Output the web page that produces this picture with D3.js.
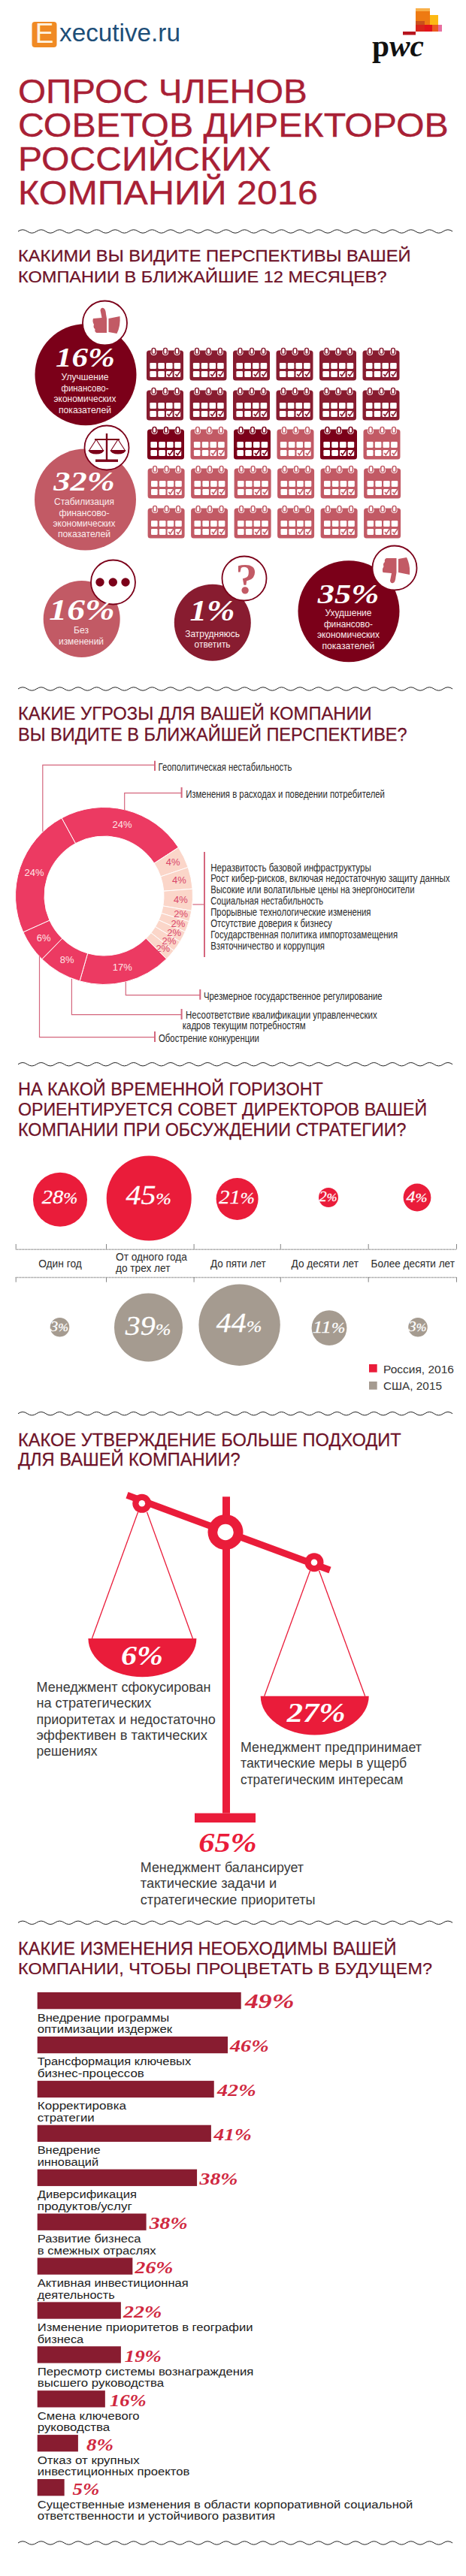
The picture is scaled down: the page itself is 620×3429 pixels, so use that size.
<!DOCTYPE html>
<html lang="ru"><head><meta charset="utf-8">
<script src="https://cdnjs.cloudflare.com/ajax/libs/d3/7.8.5/d3.min.js"></script>
<style>html,body{margin:0;padding:0;background:#fff}svg{display:block}text{font-family:"Liberation Sans",sans-serif}</style>
</head><body><svg id="c" width="620" height="3429" viewBox="0 0 620 3429"></svg>
<script>
// ---------- DATA ----------
const titleLines=["ОПРОС ЧЛЕНОВ","СОВЕТОВ ДИРЕКТОРОВ","РОССИЙСКИХ","КОМПАНИЙ 2016"];
const q1Lines=["КАКИМИ ВЫ ВИДИТЕ ПЕРСПЕКТИВЫ ВАШЕЙ","КОМПАНИИ В БЛИЖАЙШИЕ 12 МЕСЯЦЕВ?"];
const outlookValues=["16%","32%","16%","1%","35%"];
const outlookLabels=[["Улучшение","финансово-","экономических","показателей"],["Стабилизация","финансово-","экономических","показателей"],["Без","изменений"],["Затрудняюсь","ответить"],["Ухудшение","финансово-","экономических","показателей"]];
const calendarGrid=[[1,1,1,1,1,1],[1,1,1,1,1,1],[0,2,0,2,0,2],[2,2,2,2,2,2],[2,2,2,2,2,2]];
const q2Lines=["КАКИЕ УГРОЗЫ ДЛЯ ВАШЕЙ КОМПАНИИ","ВЫ ВИДИТЕ В БЛИЖАЙШЕЙ ПЕРСПЕКТИВЕ?"];
const threatValues=[24,4,4,4,2,2,2,2,2,17,8,6,24];
const threatKinds=[0,1,1,1,1,1,1,1,1,0,0,0,0];
const threatList=["Неразвитость  базовой инфраструктуры","Рост кибер-рисков, включая недостаточную защиту данных","Высокие или волатильные цены на энергоносители","Социальная нестабильность","Прорывные технологические изменения","Отсутствие доверия к бизнесу","Государственная политика импортозамещения","Взяточничество и коррупция"];
const q3Lines=["НА КАКОЙ ВРЕМЕННОЙ ГОРИЗОНТ","ОРИЕНТИРУЕТСЯ СОВЕТ ДИРЕКТОРОВ ВАШЕЙ","КОМПАНИИ ПРИ ОБСУЖДЕНИИ СТРАТЕГИИ?"];
const horizonCats=["Один год","От одного года|до трех лет","До пяти лет","До десяти лет","Более десяти лет"];
const russia2016=[28,45,21,2,4];
const usa2015=[3,39,44,11,3];
const legendNames=["Россия, 2016","США, 2015"];
const q4Lines=["КАКОЕ УТВЕРЖДЕНИЕ БОЛЬШЕ ПОДХОДИТ","ДЛЯ ВАШЕЙ КОМПАНИИ?"];
const q5Lines=["КАКИЕ ИЗМЕНЕНИЯ НЕОБХОДИМЫ ВАШЕЙ","КОМПАНИИ, ЧТОБЫ ПРОЦВЕТАТЬ В БУДУЩЕМ?"];
const changeCats=[["Внедрение программы","оптимизации издержек"],["Трансформация ключевых","бизнес-процессов"],["Корректировка","стратегии"],["Внедрение","инноваций"],["Диверсификация","продуктов/услуг"],["Развитие бизнеса","в смежных отраслях"],["Активная инвестиционная","деятельность"],["Изменение приоритетов в географии","бизнеса"],["Пересмотр системы вознаграждения","высшего руководства"],["Смена ключевого","руководства"],["Отказ от крупных","инвестиционных проектов"],["Существенные изменения в области корпоративной социальной","ответственности и устойчивого развития"]];
const changeLabels=[49,46,42,41,38,38,26,22,19,16,8,5];
// bar lengths as drawn in the picture (they differ from the printed labels in places)
const changeBarLengths=[49,45.8,42.5,41.8,38.4,26.2,22.9,20.1,20.1,16.3,9.8,6.5];

// ---------- HELPERS ----------
const svg=d3.select("#c");
const RED="#ea1c3a",DARK="#7b0019",WINE="#881c30",ROSE="#c25a65",HEAD="#6e1228";
function t(g,x,y,s,size,fill,o={}){
  const e=g.append("text").attr("font-size",size).attr("fill",fill).text(s);
  if(o.anchor)e.attr("text-anchor",o.anchor);
  if(o.weight)e.attr("font-weight",o.weight);
  if(o.style)e.attr("font-style",o.style);
  if(o.family)e.style("font-family",o.family);
  if(o.stroke)e.attr("stroke",fill).attr("stroke-width",o.stroke);
  const k=o.w?o.w/e.node().getComputedTextLength():1;
  e.attr("transform",`translate(${x},${y}) scale(${k},1)`);
  return e;
}
const SERIF='"Liberation Serif",serif';
const pct=(g,x,y,s,size,fill,w)=>t(g,x,y,s,size,fill,{anchor:"middle",weight:700,style:"italic",family:SERIF,w});
function wave(y){
  const x0=24,x1=606,per=24.6,amp=2.2;let d=`M${x0},${y}`,x=x0,up=true;
  while(x+per/2<=x1+0.1){d+=`q${per/4},${up?-amp*2:amp*2} ${per/2},0`;x+=per/2;up=!up;}
  svg.append("path").attr("d",d).attr("fill","none").attr("stroke","#222").attr("stroke-width",1);
}
function heading(lines,ys,ws,size){lines.forEach((s,i)=>t(svg,24,ys[i],s,size,HEAD,{w:ws[i],stroke:0.25}));}

// ---------- HEADER ----------
svg.append("rect").attr("x",42.5).attr("y",29).attr("width",33).attr("height",34).attr("rx",4).attr("fill","#f08a24");
t(svg,59,57,"E",37,"#fff3e0",{anchor:"middle"});
t(svg,79,55,"xecutive.ru",33,"#1d4e78",{w:161});
const pwcBlocks=[[553,11,19,22,"#f8b04a"],[553,15,19,18,"#ee7a12"],[572,20,11,13,"#fdb913"],[553,28,12,5,"#c9501c"],[553,33,12,9,"#d9241a"],[565,33,10,9,"#e3131b"],[575,33,8,9,"#ec5a1f"],[583,33,5,9,"#e86fa0"],[536,42,17,4.5,"#b7141e"]];
svg.selectAll(".pb").data(pwcBlocks).join("rect").attr("x",d=>d[0]).attr("y",d=>d[1]).attr("width",d=>d[2]).attr("height",d=>d[3]).attr("fill",d=>d[4]);
(function(){const e=svg.append("text").attr("x",495).attr("y",75).attr("font-size",40).attr("fill","#111").attr("textLength",69).attr("lengthAdjust","spacingAndGlyphs").style("font-family",SERIF).style("font-weight",700);
 e.append("tspan").text("p");e.append("tspan").attr("font-style","italic").text("wc");})();
[[137,385],[182,573],[227,337],[272,399]].forEach((p,i)=>t(svg,24,p[0],titleLines[i],44,"#a82035",{w:p[1],stroke:0.3}));
wave(308);

// ---------- Q1 ----------
heading(q1Lines,[348,376],[523,491],22);
const calColor=d3.scaleOrdinal().domain([0,1,2]).range([DARK,WINE,ROSE]);
const calX=d3.scaleLinear().domain([0,5]).range([195,482.5]);
const calY=[463,516,568,620,673];
const calDX=[0,0,1,1.6,1.6];
calendarGrid.forEach((row,r)=>row.forEach((v,c)=>{
  const x=calX(c)+calDX[r],y=calY[r],col=calColor(v);
  const g=svg.append("g").attr("transform",`translate(${x},${y})`);
  g.append("rect").attr("y",3.5).attr("width",49).attr("height",40).attr("rx",3.5).attr("fill",col);
  [9.5,25,40.5].forEach(cx=>{
    g.append("rect").attr("x",cx-4).attr("y",2.5).attr("width",8).attr("height",7.5).attr("rx",4).attr("fill","#fff");
    g.append("rect").attr("x",cx-3.1).attr("y",-0.3).attr("width",6.2).attr("height",9.3).attr("rx",3.1).attr("fill",col);
    g.append("rect").attr("x",cx-1.5).attr("y",1).attr("width",3).attr("height",6.8).attr("rx",1.5).attr("fill","#fff");
  });
  [20,31].forEach((sy,ri)=>[4.4,15.3,26,36.6].forEach((sx,ci)=>{
    g.append("rect").attr("x",sx).attr("y",sy).attr("width",8.6).attr("height",8).attr("rx",1.2).attr("fill","#fff");
    if(ri==1&&ci>=2)g.append("path").attr("d",`M${sx+1.8},${sy+4}l2,2.6l4.4,-6.4`).attr("fill","none").attr("stroke",col).attr("stroke-width",1.6);
  }));
}));
const outlookCircles=[
 {cx:114,cy:498.7,r:67.5,fill:DARK,ic:[139.5,430],pw:79,ps:36,py:488,px:113.5,lx:113,ly:[506,520.5,535,549.5],lw:[63,63,83,70]},
 {cx:113.5,cy:665,r:67.5,fill:ROSE,ic:[142,596],pw:81.5,ps:36,py:653,px:112,lx:112,ly:[672,686.5,701,715],lw:[80,67,83,70]},
 {cx:108.7,cy:824,r:51,fill:ROSE,ic:[150.5,775],pw:87.4,ps:40,py:825,px:109,lx:108,ly:[843,858],lw:[20,60]},
 {cx:282.8,cy:828.7,r:51,fill:WINE,ic:[325,770],pw:60,ps:40,py:826,px:282.5,lx:282.6,ly:[848,862],lw:[73,48]},
 {cx:464,cy:813.7,r:67.5,fill:DARK,ic:[525,756],pw:81.5,ps:36,py:803,px:463.5,lx:463.4,ly:[820,834.5,849,863.5],lw:[62,65,83,70]}];
outlookCircles.forEach((d,i)=>{
  svg.append("circle").attr("cx",d.cx).attr("cy",d.cy).attr("r",d.r).attr("fill",d.fill);
  svg.append("circle").attr("cx",d.ic[0]).attr("cy",d.ic[1]).attr("r",29.5).attr("fill","#fff").attr("stroke",DARK).attr("stroke-width",1.8);
  pct(svg,d.px,d.py,outlookValues[i],d.ps,"#fff",d.pw);
  outlookLabels[i].forEach((s,j)=>t(svg,d.lx,d.ly[j],s,13.5,"#fbeeee",{anchor:"middle",w:d.lw[j]}));
});
// thumb icons
function thumb(cx,cy,flip){
  const g=svg.append("g").attr("transform",`translate(${cx},${cy}) scale(1,${flip?-1:1})`).attr("fill",ROSE);
  g.append("path").attr("d",`M-15.5,-6 L-4,-7 L-6,-17 Q-5,-21 -2,-20 Q1,-19 1.5,-12 L2.5,-6 L2.5,13 L-11,13 Q-14,12 -13,8 Q-16,6 -14.5,2 Q-17,-2 -15.5,-6Z`);
  g.append("path").attr("d","M5,-6 L20,-9 Q21,4 16,14 L5,12Z");
}
thumb(139.5,430,false);
thumb(525,756,true);
// scale icon
(function(){
  const g=svg.append("g").attr("transform","translate(142,596)").attr("fill",DARK).attr("stroke",DARK);
  g.append("rect").attr("x",-1.2).attr("y",-19).attr("width",2.4).attr("height",35).attr("stroke","none");
  g.append("rect").attr("x",-15).attr("y",15.5).attr("width",30).attr("height",3.4).attr("stroke","none");
  g.append("path").attr("d","M-16,-11 L17,-11").attr("stroke-width",2);
  [[-14],[15]].forEach(([px])=>{
    g.append("path").attr("d",`M${px},-11 L${px-9},3 M${px},-11 L${px+9},3`).attr("fill","none").attr("stroke-width",1.1);
    g.append("path").attr("d",`M${px-10.5},3 A10.5 5.5 0 0 0 ${px+10.5},3Z`).attr("stroke","none");
  });
})();
[133,150.3,167].forEach(x=>svg.append("circle").attr("cx",x).attr("cy",775).attr("r",5.7).attr("fill",DARK));
t(svg,328,790,"?",58,ROSE,{anchor:"middle",weight:700,family:SERIF});
wave(917);

// ---------- Q2 donut ----------
heading(q2Lines,[958.3,985.7],[471,518],23.5);
const donutCX=138.5,donutCY=1192.5;
const a0=-28.6*Math.PI/180;
const pie=d3.pie().sort(null).startAngle(a0).endAngle(a0+2*Math.PI)(threatValues);
const arc=d3.arc().innerRadius(79.5).outerRadius(118);
const dg=svg.append("g").attr("transform",`translate(${donutCX},${donutCY})`);
const sliceCol=d3.scaleOrdinal().domain([0,1]).range(["#ec3a62","#fbd6c9"]);
dg.selectAll("path").data(pie).join("path").attr("d",arc).attr("fill",(d,i)=>sliceCol(threatKinds[i])).attr("stroke","#fff").attr("stroke-width",1);
const labArc=d=>d3.arc().innerRadius(d).outerRadius(d);
pie.forEach((d,i)=>{
  const k=threatKinds[i];const p=labArc(k?(d.value==2?105:102):98).centroid(d);
  t(dg,p[0],p[1]+4.5,d.value+"%",13,k?"#d9476a":"#fde6e6",{anchor:"middle"});
});
const LEAD="#d4667d";
const leaders=[
 {d:"M56.8,1107V1018.3H206",bar:[206,1012.7,1026]},
 {d:"M165.7,1078V1055.7H241.6",bar:[241.6,1048,1062]},
 {d:"M167.3,1307V1324.7H266.3",bar:[266.3,1317,1330.7]},
 {d:"M95.4,1303V1350.7H241.6",bar:[241.6,1343,1357]},
 {d:"M52.5,1273V1380.7H206",bar:[206,1373,1387]},
 {d:"M256.4,1204H272",bar:[272,1134,1274]}];
leaders.forEach(l=>{
  svg.append("path").attr("d",l.d).attr("fill","none").attr("stroke",LEAD).attr("stroke-width",1.2);
  svg.append("line").attr("x1",l.bar[0]).attr("x2",l.bar[0]).attr("y1",l.bar[1]).attr("y2",l.bar[2]).attr("stroke",LEAD).attr("stroke-width",2);
});
const TXT="#2a2a2a";
const threatNotes=[[210.6,1025.5,"Геополитическая нестабильность",178],[247.2,1062,"Изменения в расходах и поведении потребителей",265],[271,1330.5,"Чрезмерное государственное регулирование",238],[247,1356,"Несоответствие квалификации управленческих",255],[242.8,1370,"кадров текущим потребностям",164],[211,1387,"Обострение конкуренции",134]];
threatNotes.forEach(n=>t(svg,n[0],n[1],n[2],14,TXT,{w:n[3]}));
const threatListW=[213.8,318.8,271.5,150,213.4,161.8,249,152];
const threatListY=d3.scaleLinear().domain([0,7]).range([1159.5,1263.5]);
threatList.forEach((s,i)=>t(svg,280.2,threatListY(i),s,14,TXT,{w:threatListW[i]}));
wave(1416.7);

// ---------- Q3 bubbles ----------
heading(q3Lines,[1458,1485,1511.7],[406,544.5,516.7],23.5);
const rScale=d3.scaleLinear().domain([2,3,4,11,21,28,39,44,45]).range([13,12.8,18.4,23.4,28,36,45.5,54.2,56.5]);
const ruX=[80,198.2,315.6,437,555],ruY=[1596.7,1595,1596,1594,1594];
const usX=[79.5,197.5,318.6,438,556],usY=[1766.7,1767,1763.8,1767.7,1766.7];
function bubbles(vals,xs,ys,col,labY,labS){
  vals.forEach((v,i)=>{
    svg.append("circle").attr("cx",xs[i]).attr("cy",ys[i]).attr("r",rScale(v)).attr("fill",col);
    const g=svg.append("g").attr("transform",`translate(${xs[i]-0.5},${labY[i]}) scale(1.14,1)`);
    const e=g.append("text").attr("text-anchor","middle").attr("fill","#fff").attr("font-style","italic").style("font-family",SERIF).style("font-weight",500).attr("font-size",labS[i]).attr("stroke","#fff").attr("stroke-width",0.25);
    e.append("tspan").text(v);
    e.append("tspan").attr("font-size",labS[i]*(labS[i]>30?0.62:0.8)).text("%");
  });
}
bubbles(russia2016,ruX,ruY,RED,[1602.3,1603,1602.3,1599,1599.7],[25,35,25,18,21]);
bubbles(usa2015,usX,usY,"#a59b90",[1771.7,1776.7,1773.3,1774,1771.7],[18,35,35,24,18]);
const edgeX=d3.scaleLinear().domain([0,1,2,3,4,5]).range([20.7,141,257.6,372.8,489.7,607]);
const ax=(gen,y)=>{const g=svg.append("g").attr("transform",`translate(0,${y})`).call(gen.scale(edgeX).tickValues(d3.range(6)).tickSize(6.7).tickSizeOuter(0).tickFormat(""));
 g.select(".domain").attr("stroke","#777").attr("stroke-width",1.6).attr("stroke-dasharray","1 1");g.selectAll(".tick line").attr("stroke","#777").attr("stroke-width",.9);};
ax(d3.axisTop(),1662.7);ax(d3.axisBottom(),1700);
const catX=[51.2,154,280,387.5,493.6],catW=[[57.6],[95,72.5],[73.7],[89.5],[111.4]];
horizonCats.forEach((c,i)=>{const ls=c.split("|");
 ls.forEach((s,j)=>t(svg,catX[i],ls.length==1?1687:1678+j*15.3,s,14,TXT,{w:catW[i][j]}));});
[[1816,RED,94],[1839,"#a59b90",78]].forEach((d,i)=>{
 svg.append("rect").attr("x",491).attr("y",d[0]).attr("width",10.7).attr("height",10.7).attr("fill",d[1]);
 t(svg,510,d[0]+(i?11:12),legendNames[i],15.5,"#333",{w:d[2]});
});
wave(1881.7);

// ---------- Q4 scales ----------
heading(q4Lines,[1924.6,1951.3],[510,296],23);
const sc=svg.append("g");
sc.append("rect").attr("x",296).attr("y",1992.3).attr("width",10).attr("height",421.3).attr("fill",RED);
sc.append("rect").attr("x",259).attr("y",2413.6).attr("width",81).attr("height",12.4).attr("fill",RED);
sc.append("line").attr("x1",169).attr("y1",1990.3).attr("x2",439).attr("y2",2090).attr("stroke",RED).attr("stroke-width",9);
[[300,2039.5,23.5,10.7],[188.8,2001.3,12.5,4.3],[418,2079.7,12.5,4.3]].forEach(r=>{
 sc.append("circle").attr("cx",r[0]).attr("cy",r[1]).attr("r",r[2]).attr("fill",RED);
 sc.append("circle").attr("cx",r[0]).attr("cy",r[1]).attr("r",r[3]).attr("fill","#fff");
});
[[183.6,2012.8,122.4,2181],[195.5,2012.8,256.4,2181],[412.6,2090.8,351.7,2257.7],[424.5,2090.8,485.7,2257.7]].forEach(l=>
 sc.append("line").attr("x1",l[0]).attr("y1",l[1]).attr("x2",l[2]).attr("y2",l[3]).attr("stroke",RED).attr("stroke-width",1.3));
[[189.4,2181,51.3],[418.7,2257.7,51.7]].forEach(p=>
 sc.append("path").attr("d",`M${p[0]-72},${p[1]}A72 ${p[2]} 0 0 0 ${p[0]+72},${p[1]}Z`).attr("fill",RED));
pct(sc,189,2215.9,"6%",35,"#fff",56);
pct(sc,420.7,2291.8,"27%",35,"#fff",78);
pct(sc,303,2465.3,"65%",35,RED,77.5);
const stmts=[
 {x:48.5,y:2252,lines:["Менеджмент сфокусирован","на стратегических","приоритетах и недостаточно","эффективен в тактических","решениях"],w:[232,153,238.5,227.7,81]},
 {x:320,y:2332,lines:["Менеджмент предпринимает","тактические меры в ущерб","стратегическим интересам"],w:[241,221.4,216.6]},
 {x:186.8,y:2492,lines:["Менеджмент балансирует","тактические задачи и","стратегические приоритеты"],w:[217.4,181.6,233]}];
stmts.forEach(s=>s.lines.forEach((l,i)=>t(svg,s.x,s.y+i*21.25,l,18,"#3a3a3a",{w:s.w[i]})));
wave(2559.3);

// ---------- Q5 bars ----------
heading(q5Lines,[2601.7,2627.7],[503.6,551.3],23);
const barX=d3.scaleLinear().domain([0,49]).range([0,271]);
const barY=d3.scaleLinear().domain([0,11]).range([2652,3300]);
const labW=[[175.7,179.6],[204.7,142.3],[118.4,76],[83.9,81.5],[132.4,126],[138,158],[201,103],[287,61.6],[288,168.5],[136,96.6],[136,202.7],[500,316.8]];
const labL=[326,306,289,284.6,265.5,198.7,179.6,164,165.7,146,115,96.6];
const labR=[391.5,357.7,340.6,334.7,316.4,249.6,230.5,215.4,215,194.8,151,132.4];
svg.selectAll(".bar").data(changeBarLengths).join("rect").attr("class","bar").attr("x",49.7).attr("y",(d,i)=>barY(i)).attr("width",d=>barX(d)).attr("height",22.3).attr("fill",WINE);
changeLabels.forEach((v,i)=>{
 pct(svg,(labL[i]+labR[i])/2,barY(i)+20.5,v+"%",i==0?28:23,"#d02840",labR[i]-labL[i]);
 changeCats[i].forEach((s,j)=>t(svg,49.7,barY(i)+38.5+j*15.7,s,15.5,"#222",{w:labW[i][j]}));
});
wave(3385);
</script></body></html>
